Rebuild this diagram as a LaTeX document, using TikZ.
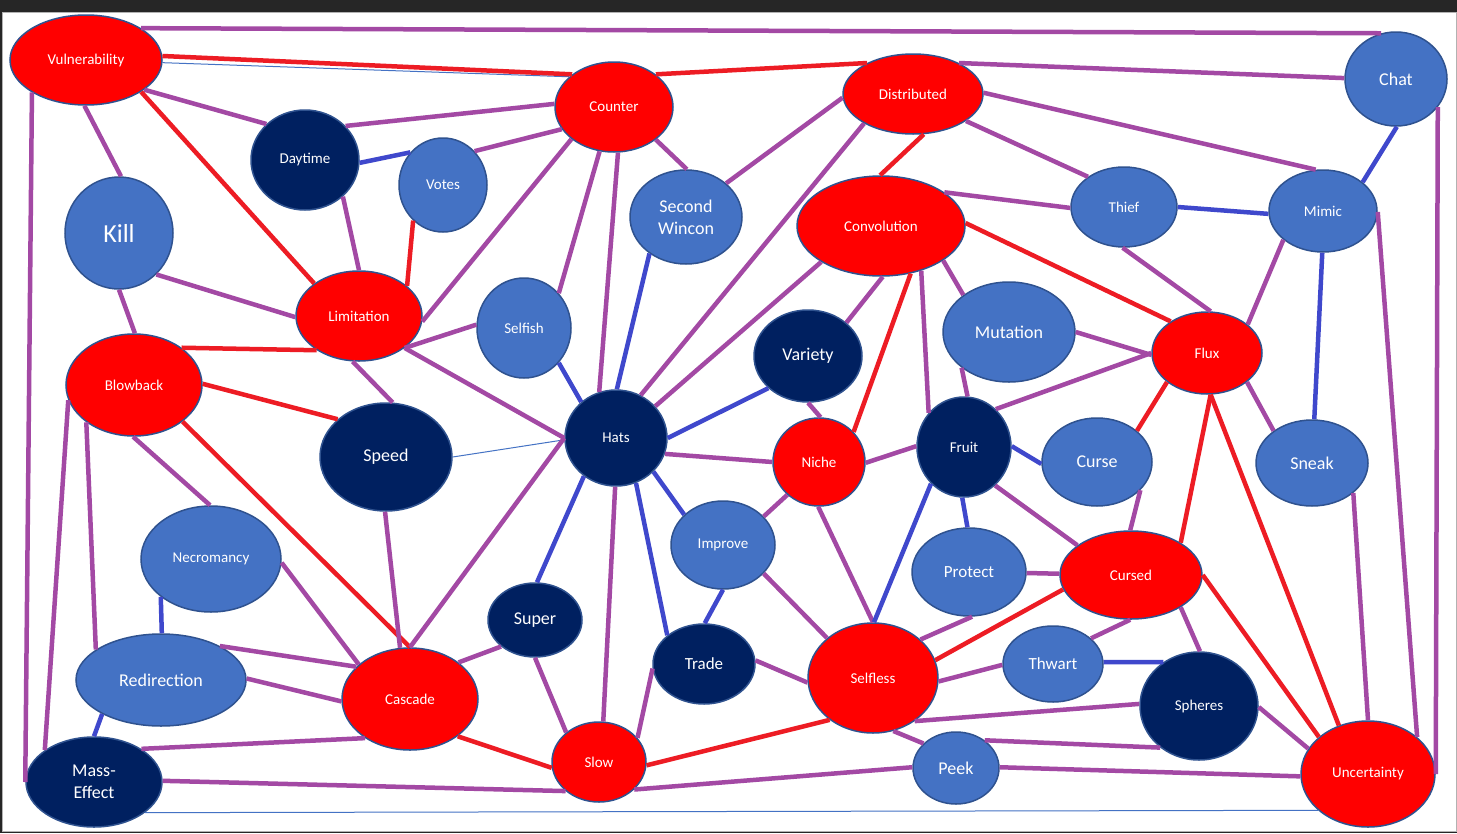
\documentclass[tikz,border=0pt]{standalone}
\usepackage{fontspec}
\setmainfont{Carlito}
\usetikzlibrary{shapes.geometric}
\definecolor{nred}{HTML}{FF0000}
\definecolor{nblue}{HTML}{4472C4}
\definecolor{nnavy}{HTML}{002060}
\definecolor{bord}{HTML}{2F528F}
\definecolor{lpurple}{HTML}{A349A4}
\definecolor{lred}{HTML}{ED1C24}
\definecolor{lblue}{HTML}{3F48CC}
\definecolor{bgdark}{HTML}{262626}
\tikzset{
  nd/.style={ellipse, draw=bord, line width=1.5pt, inner sep=0pt, text=white, align=center},
  rn/.style={nd, fill=nred},
  bn/.style={nd, fill=nblue},
  dn/.style={nd, fill=nnavy},
  sz/.style 2 args={minimum width=#1pt, minimum height=#2pt},
  sm/.style={font=\fontsize{15}{18}\selectfont},
  md/.style={font=\fontsize{17}{21}\selectfont},
  lg/.style={font=\fontsize{18}{22}\selectfont},
  hg/.style={font=\fontsize{26}{30}\selectfont},
  pl/.style={draw=lpurple, line width=4.5pt},
  rl/.style={draw=lred, line width=4.5pt},
  bl/.style={draw=lblue, line width=4.5pt},
  tl/.style={draw=nblue, line width=1pt},
}
\begin{document}
\begin{tikzpicture}[x=1pt, y=-1pt]
\useasboundingbox (0,0) rectangle (1457,833);
\fill[bgdark] (0,0) rectangle (1457,833);
\filldraw[fill=white, draw=gray!60, line width=1pt] (2.5,12.5) rectangle (1456,831);

% nodes
\node[rn, sm, sz={152}{90}] (vul) at (86,60) {Vulnerability};
\node[rn, sm, sz={118}{90}] (cou) at (614,107) {Counter};
\node[rn, sm, sz={140}{80}] (dis) at (913,94) {Distributed};
\node[bn, lg, sz={102}{94}] (cha) at (1396,79) {Chat};
\node[dn, sm, sz={108}{100}] (day) at (305,160) {Daytime};
\node[bn, sm, sz={88}{94}] (vot) at (443,185) {Votes};
\node[bn, hg, sz={108}{112}] (kil) at (119,233) {Kill};
\node[bn, lg, sz={112}{94}] (sec) at (686,217) {Second\\Wincon};
\node[rn, sm, sz={168}{100}] (con) at (881,226) {Convolution};
\node[bn, sm, sz={106}{80}] (thi) at (1124,207) {Thief};
\node[bn, sm, sz={108}{82}] (mim) at (1323,211) {Mimic};
\node[rn, sm, sz={126}{90}] (lim) at (359,316) {Limitation};
\node[rn, sm, sz={136}{102}] (blo) at (134,385) {Blowback};
\node[dn, lg, sz={132}{108}] (spe) at (386,457) {Speed};
\node[bn, sm, sz={94}{100}] (sel) at (524,328) {Selfish};
\node[dn, sm, sz={102}{96}] (hat) at (616,438) {Hats};
\node[dn, lg, sz={108}{92}] (var) at (808,356) {Variety};
\node[rn, sm, sz={92}{88}] (nic) at (819,462) {Niche};
\node[dn, sm, sz={94}{100}] (fru) at (964,447) {Fruit};
\node[bn, lg, sz={132}{100}] (mut) at (1009,332) {Mutation};
\node[rn, sm, sz={110}{82}] (flu) at (1207,353) {Flux};
\node[bn, lg, sz={110}{88}] (cur) at (1097,462) {Curse};
\node[bn, lg, sz={112}{86}] (sne) at (1312,463) {Sneak};
\node[bn, sm, sz={140}{106}] (nec) at (211,559) {Necromancy};
\node[bn, lg, sz={170}{92}] (rdr) at (161,680) {Redirection};
\node[dn, lg, sz={136}{90}] (mas) at (94,782) {Mass-\\Effect};
\node[rn, sm, sz={136}{102}] (cas) at (410,699) {Cascade};
\node[dn, lg, sz={94}{74}] (sup) at (535,620) {Super};
\node[bn, sm, sz={104}{88}] (imp) at (723,545) {Improve};
\node[dn, md, sz={102}{80}] (tra) at (704,664) {Trade};
\node[rn, sm, sz={94}{80}] (slo) at (599,762) {Slow};
\node[rn, sm, sz={130}{110}] (slf) at (873,678) {Selfless};
\node[bn, lg, sz={86}{72}] (pee) at (956,768) {Peek};
\node[bn, md, sz={114}{88}] (pro) at (969,572) {Protect};
\node[rn, sm, sz={142}{88}] (crs) at (1131,575) {Cursed};
\node[bn, md, sz={100}{76}] (thw) at (1053,664) {Thwart};
\node[dn, sm, sz={118}{108}] (sph) at (1199,706) {Spheres};
\node[rn, sm, sz={134}{106}] (unc) at (1368,774) {Uncertainty};

% connectors
\draw[tl] (mas.-31) -- (unc.216);
\draw[pl] (vul.30) -- (cha.108);
\draw[tl] (vul.-2) -- (cou.146);
\draw[rl] (vul.3) -- (cou.142);
\draw[pl] (vul.-27) -- (day.137);
\draw[rl] (vul.-30) -- (lim.144);
\draw[pl] (vul.-92) -- (kil.88);
\draw[pl] (vul.211) -- (mas.180);
\draw[pl] (day.40) -- (cou.177);
\draw[bl] (day.-3) -- (vot.135);
\draw[pl] (vot.47) -- (cou.203);
\draw[pl] (day.-44) -- (lim.90);
\draw[rl] (vot.230) -- (lim.32);
\draw[pl] (cou.217) -- (lim.-5);
\draw[pl] (kil.-48) -- (lim.181);
\draw[pl] (kil.-90) -- (blo.89);
\draw[rl] (blo.38) -- (lim.219);
\draw[rl] (blo.1) -- (spe.142);
\draw[rl] (blo.-37) -- (cas.90);
\draw[pl] (blo.-91) -- (nec.91);
\draw[pl] (blo.193) -- (mas.147);
\draw[pl] (blo.218) -- (rdr.155);
\draw[pl] (lim.-98) -- (spe.83);
\draw[pl] (lim.-35) -- (sel.176);
\draw[pl] (lim.-35) -- (hat.180);
\draw[tl] (spe.0) -- (hat.182);
\draw[pl] (spe.-91) -- (cas.101);
\draw[pl] (cou.252) -- (sel.45);
\draw[pl] (cou.-85) -- (hat.110);
\draw[pl] (hat.-91) -- (slo.84);
\draw[bl] (sec.225) -- (hat.89);
\draw[pl] (cou.-38) -- (sec.89);
\draw[pl] (sec.40) -- (dis.183);
\draw[pl] (dis.211) -- (hat.60);
\draw[pl] (con.211) -- (hat.39);
\draw[rl] (dis.-75) -- (con.91);
\draw[rl] (cou.38) -- (dis.146);
\draw[bl] (sel.-45) -- (hat.134);
\draw[bl] (hat.0) -- (var.219);
\draw[pl] (var.41) -- (con.-88);
\draw[rl] (nic.41) -- (con.-58);
\draw[pl] (var.-90) -- (nic.88);
\draw[pl] (hat.-18) -- (nic.180);
\draw[pl] (nic.-1) -- (fru.179);
\draw[pl] (con.-48) -- (fru.136);
\draw[pl] (con.-29) -- (mut.141);
\draw[pl] (mut.217) -- (fru.86);
\draw[bl] (hat.-42) -- (imp.142);
\draw[pl] (hat.180) -- (cas.90);
\draw[bl] (hat.230) -- (sup.87);
\draw[bl] (hat.-66) -- (tra.142);
\draw[pl] (nic.226) -- (imp.35);
\draw[pl] (nic.-91) -- (slf.90);
\draw[bl] (fru.228) -- (slf.89);
\draw[bl] (fru.-92) -- (pro.92);
\draw[pl] (dis.34) -- (cha.179);
\draw[pl] (dis.1) -- (mim.100);
\draw[pl] (dis.-27) -- (thi.140);
\draw[pl] (con.28) -- (thi.181);
\draw[rl] (con.2) -- (flu.139);
\draw[bl] (thi.0) -- (mim.183);
\draw[bl] (cha.-89) -- (mim.36);
\draw[pl] (cha.-34) -- (unc.0);
\draw[pl] (thi.-92) -- (flu.85);
\draw[pl] (mim.216) -- (flu.35);
\draw[bl] (mim.-91) -- (sne.87);
\draw[pl] (mim.-1) -- (unc.37);
\draw[pl] (mut.0) -- (flu.182);
\draw[pl] (fru.50) -- (flu.180);
\draw[rl] (flu.216) -- (cur.38);
\draw[rl] (flu.-85) -- (crs.33);
\draw[rl] (flu.-85) -- (unc.121);
\draw[pl] (flu.-36) -- (sne.140);
\draw[bl] (fru.1) -- (cur.182);
\draw[pl] (fru.-51) -- (crs.151);
\draw[pl] (cur.-33) -- (crs.91);
\draw[pl] (sne.-36) -- (unc.90);
\draw[bl] (nec.217) -- (rdr.89);
\draw[pl] (nec.-3) -- (cas.146);
\draw[pl] (rdr.30) -- (cas.149);
\draw[pl] (rdr.1) -- (cas.182);
\draw[bl] (rdr.210) -- (mas.90);
\draw[pl] (mas.35) -- (cas.221);
\draw[pl] (mas.1) -- (slo.221);
\draw[rl] (cas.-38) -- (slo.187);
\draw[pl] (cas.37) -- (sup.218);
\draw[pl] (sup.-90) -- (slo.138);
\draw[pl] (slo.32) -- (tra.185);
\draw[bl] (imp.-90) -- (tra.89);
\draw[pl] (imp.-35) -- (slf.139);
\draw[pl] (tra.4) -- (slf.184);
\draw[rl] (slo.-4) -- (slf.224);
\draw[pl] (slo.-38) -- (pee.179);
\draw[pl] (slf.-69) -- (pee.143);
\draw[pl] (slf.39) -- (pro.-86);
\draw[rl] (slf.16) -- (crs.192);
\draw[pl] (slf.-3) -- (thw.181);
\draw[pl] (slf.-46) -- (sph.178);
\draw[pl] (pro.-1) -- (crs.179);
\draw[pl] (crs.-91) -- (thw.34);
\draw[pl] (crs.-33) -- (sph.89);
\draw[bl] (thw.2) -- (sph.129);
\draw[pl] (pee.44) -- (sph.227);
\draw[pl] (pee.1) -- (unc.182);
\draw[pl] (sph.-1) -- (unc.157);
\draw[rl] (crs.0) -- (unc.143);
\end{tikzpicture}
\end{document}
